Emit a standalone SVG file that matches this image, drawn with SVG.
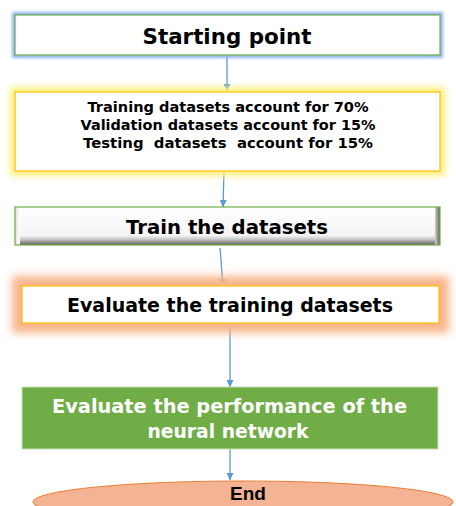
<svg xmlns="http://www.w3.org/2000/svg" width="456" height="506" viewBox="0 0 456 506">
<defs>
<style>
.t{font-family:"DejaVu Sans","Liberation Sans",sans-serif;font-weight:bold;fill:#000;text-anchor:middle}
.c{stroke:#5B9BD5;stroke-width:1.3;fill:none;marker-end:url(#ah)}
</style>
<marker id="ah" markerWidth="8" markerHeight="8" refX="7" refY="4" orient="auto" markerUnits="userSpaceOnUse">
<path d="M0,0.5 L7.5,4 L0,7.5 Z" fill="#5B9BD5"/>
</marker>
<filter id="g1" x="-10%" y="-50%" width="120%" height="200%"><feGaussianBlur stdDeviation="1.5"/></filter>
<filter id="g2" x="-10%" y="-50%" width="120%" height="200%"><feGaussianBlur stdDeviation="3"/></filter>
<filter id="g3" x="-10%" y="-80%" width="120%" height="260%"><feGaussianBlur stdDeviation="4"/></filter>
<linearGradient id="bv" x1="0" y1="0" x2="0" y2="1">
<stop offset="0" stop-color="#ffffff"/>
<stop offset="0.75" stop-color="#f4f4f4"/>
<stop offset="0.85" stop-color="#c8c8c8"/>
<stop offset="1" stop-color="#5e5e5e"/>
</linearGradient>
<linearGradient id="bvl" x1="0" y1="0" x2="1" y2="0">
<stop offset="0" stop-color="#e0e0e0"/>
<stop offset="1" stop-color="#ffffff"/>
</linearGradient>
<linearGradient id="bvr" x1="0" y1="0" x2="1" y2="0">
<stop offset="0" stop-color="#d0d0d0"/>
<stop offset="1" stop-color="#606060"/>
</linearGradient>
</defs>
<rect width="456" height="506" fill="#ffffff"/>
<g id="connectors">
<line class="c" x1="227" y1="55" x2="227" y2="91"/>
<line class="c" x1="224" y1="171" x2="223" y2="207"/>
<line class="c" x1="220" y1="248" x2="223" y2="286"/>
<line class="c" x1="230" y1="323" x2="230" y2="387"/>
<line class="c" x1="230" y1="449" x2="230" y2="480"/>
</g>
<g id="n1">
<rect x="15" y="15" width="425" height="40" fill="none" stroke="#8FB4F0" stroke-width="6" filter="url(#g1)"/>
<rect x="15" y="15" width="425" height="40" fill="#ffffff" stroke="#70AD47" stroke-width="1.2"/>
<text class="t" x="227" y="44" font-size="21" textLength="169" lengthAdjust="spacingAndGlyphs">Starting point</text>
</g>
<g id="n2">
<rect x="15" y="92" width="425" height="79" fill="none" stroke="#FFF080" stroke-width="10" filter="url(#g2)"/>
<rect x="15" y="92" width="425" height="79" fill="#ffffff" stroke="#FFC000" stroke-width="1.2"/>
<text class="t" x="228" y="112" font-size="14" textLength="281" lengthAdjust="spacingAndGlyphs">Training datasets account for 70%</text>
<text class="t" x="228" y="130" font-size="14" textLength="295" lengthAdjust="spacingAndGlyphs">Validation datasets account for 15%</text>
<text class="t" x="228" y="148" font-size="14" textLength="290" lengthAdjust="spacingAndGlyphs" xml:space="preserve" style="white-space:pre">Testing  datasets  account for 15%</text>
</g>
<g id="n3">
<rect x="15" y="207" width="425" height="38" fill="url(#bv)"/>
<rect x="15" y="207" width="5" height="38" fill="url(#bvl)"/>
<rect x="435" y="207" width="5" height="38" fill="url(#bvr)"/>
<rect x="15" y="207" width="425" height="38" fill="none" stroke="#70AD47" stroke-width="1.2"/>
<text class="t" x="227" y="234" font-size="20" textLength="202" lengthAdjust="spacingAndGlyphs">Train the datasets</text>
</g>
<g id="n4">
<rect x="22" y="286" width="417" height="37" fill="none" stroke="#F7B58A" stroke-width="20" filter="url(#g3)"/>
<rect x="22" y="286" width="417" height="37" fill="#ffffff" stroke="#FFC000" stroke-width="1.2"/>
<text class="t" x="230" y="312" font-size="20" textLength="326" lengthAdjust="spacingAndGlyphs">Evaluate the training datasets</text>
</g>
<g id="n5">
<rect x="22" y="387" width="416" height="62" fill="#70AD47" stroke="#C5E0B4" stroke-width="1"/>
<text class="t" x="229.5" y="413" font-size="19" style="fill:#ffffff" textLength="355" lengthAdjust="spacingAndGlyphs">Evaluate the performance of the</text>
<text class="t" x="228" y="438" font-size="19" style="fill:#ffffff" textLength="161" lengthAdjust="spacingAndGlyphs">neural network</text>
</g>
<g id="n6">
<ellipse cx="243" cy="502" rx="210" ry="21" fill="#F4B393" stroke="#ED7D31" stroke-width="1"/>
<text x="248" y="500" font-family="'Liberation Sans',Arial,sans-serif" font-weight="bold" font-size="19" text-anchor="middle" fill="#000">End</text>
</g>
</svg>
